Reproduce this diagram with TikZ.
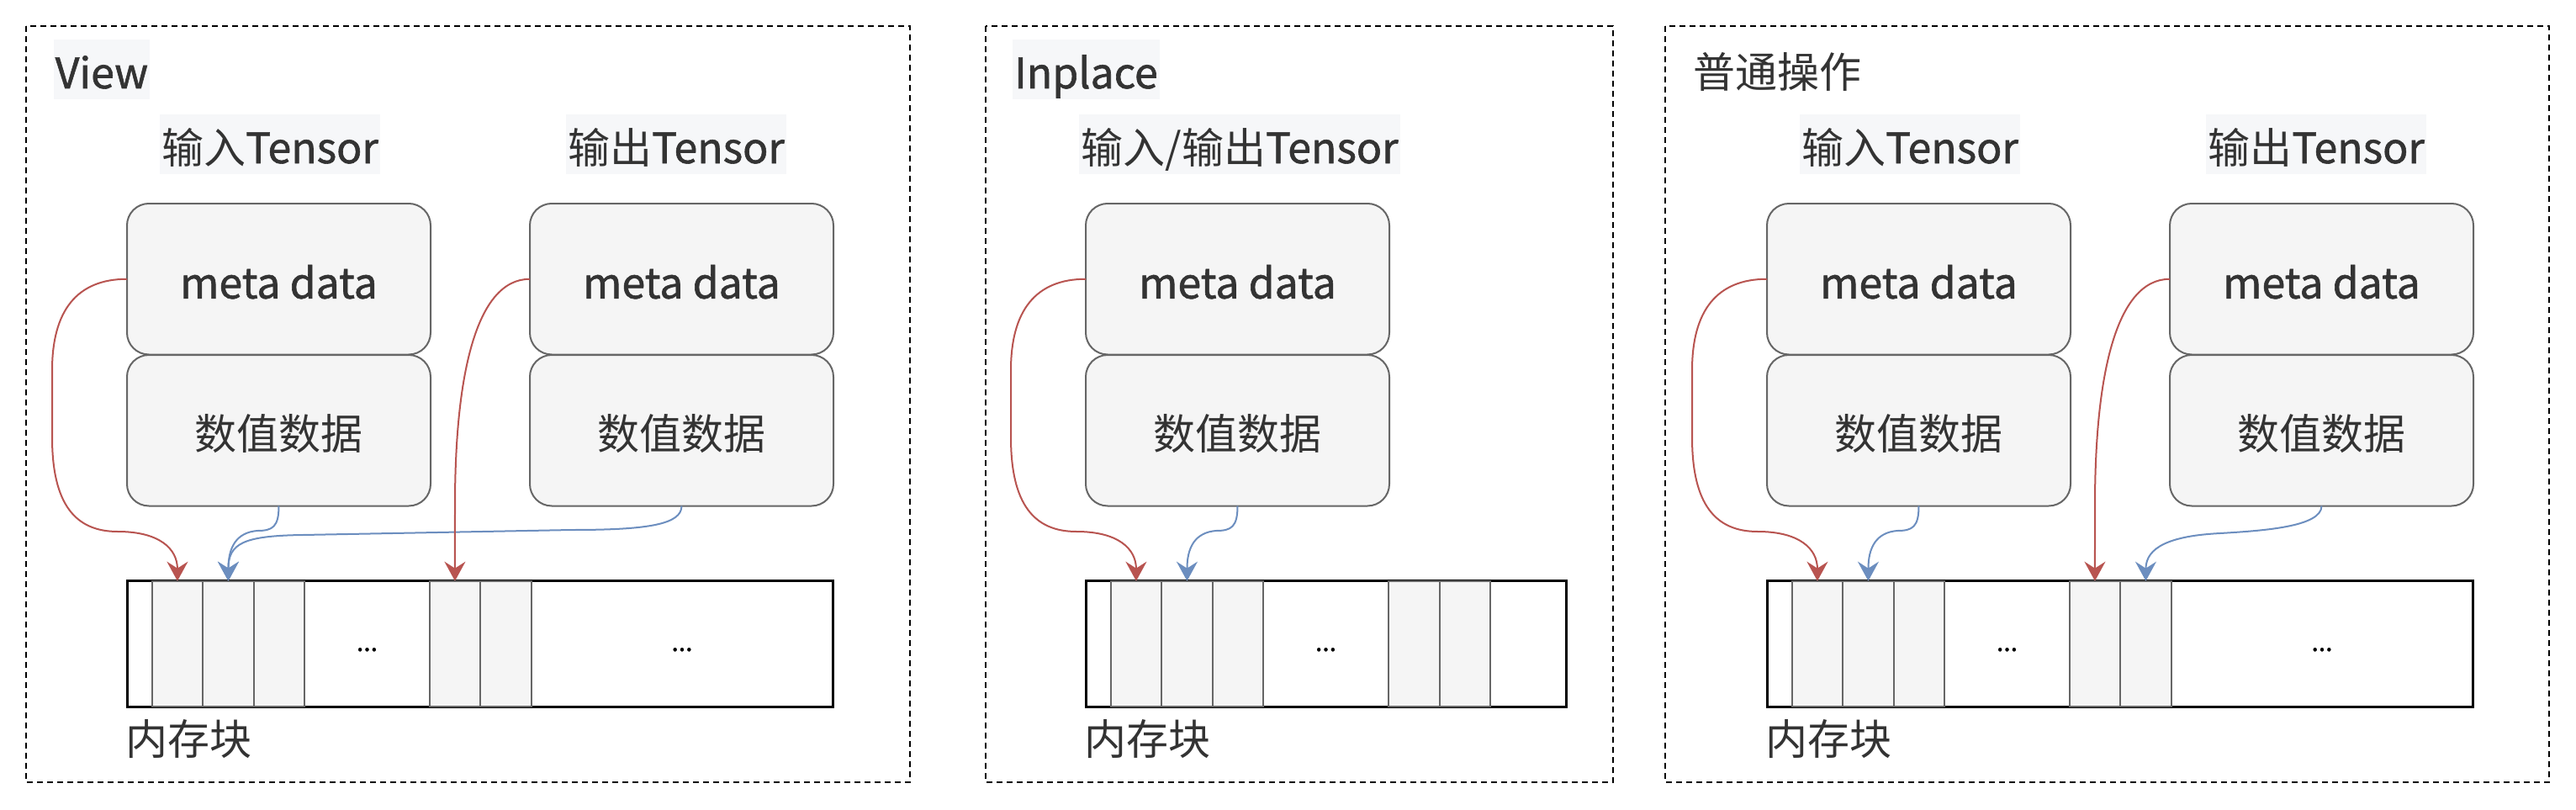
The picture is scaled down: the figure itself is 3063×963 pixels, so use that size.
\documentclass[tikz,border=0pt]{standalone}
\usepackage{fontspec}
\setmainfont{Noto Sans CJK SC}
\newfontfamily\latf{Noto Sans CJK SC}[FakeBold=1.2]
\usetikzlibrary{arrows.meta}
\definecolor{tgray}{HTML}{333333}
\definecolor{bstroke}{HTML}{666666}
\definecolor{bfill}{HTML}{F5F5F5}
\definecolor{lblbg}{HTML}{F6F7F9}
\definecolor{ared}{HTML}{B85450}
\definecolor{ablue}{HTML}{6C8EBF}
\newcommand\bigfont{\fontsize{50}{60}\selectfont}
\newcommand\dotfont{\fontsize{30}{36}\selectfont}
\begin{document}
\begin{tikzpicture}[x=1pt,y=-1pt,
  panelbox/.style={draw=black, line width=2.5pt, dash pattern=on 7pt off 5pt},
  lbl/.style={fill=lblbg, inner xsep=2pt, inner ysep=0pt, text height=58pt, text depth=13pt, text=tgray, font=\bigfont},
  tbox/.style={draw=bstroke, fill=bfill, line width=2pt, rounded corners=26pt, minimum width=361pt, minimum height=179.5pt, inner sep=0pt, outer sep=0pt, text height=46pt, text depth=0pt, text=tgray, font=\bigfont},
  mem/.style={draw=black, line width=3pt, minimum height=149.3pt, inner sep=0pt, outer sep=0pt, anchor=north west},
  cell/.style={draw=bstroke, fill=bfill, line width=2pt, minimum width=60.5pt, minimum height=149.3pt, inner sep=0pt, outer sep=0pt, anchor=north west},
  dotlbl/.style={anchor=base, inner sep=0pt, font=\dotfont\latf, text=black},
  memlbl/.style={anchor=base west, inner sep=0pt, font=\bigfont, text=tgray},
  redarr/.style={draw=ared, line width=2pt, -{Stealth[length=23pt,width=25pt,inset=8pt]}},
  bluearr/.style={draw=ablue, line width=2pt, -{Stealth[length=23pt,width=25pt,inset=8pt]}}
]
\useasboundingbox (0,0) rectangle (3063,963);
\fill[white] (0,0) rectangle (3063,963);

% ---------------- Panel 1: View ----------------
\begin{scope}
  \draw[panelbox] (31,31) rectangle (1082,930);
  \node[lbl, anchor=base west] (p1title) at (63.5,105) {\latf View};
  \node[lbl, anchor=base] (p1in) at (321,194) {输入{\latf Tensor}};
  \node[lbl, anchor=base] (p1out) at (804,194) {输出{\latf Tensor}};
  \node[tbox] (p1m1) at (331.5,331.75) {\latf meta data};
  \node[tbox] (p1n1) at (331.5,511.75) {数值数据};
  \node[tbox] (p1m2) at (810.5,331.75) {\latf meta data};
  \node[tbox] (p1n2) at (810.5,511.75) {数值数据};
  \node[mem, minimum width=839pt] (p1mem) at (151,690.7) {};
  \foreach \i/\x in {1/180.7,2/241.2,3/301.7,4/510.7,5/571.2}
    \node[cell] (p1c\i) at (\x,690.7) {};
  \node[dotlbl] (p1d1) at (436.5,774) {...};
  \node[dotlbl] (p1d2) at (811,774) {...};
  \node[memlbl] (p1lab) at (149,897) {内存块};
  \draw[bluearr] (p1n1.south) .. controls +(0,25) and +(18,0) .. (306,631) .. controls +(-25,2) and +(0,-40) .. (p1c2.north);
  \draw[bluearr] (p1n2.south) .. controls +(0,22) and +(90,0) .. (680,630) -- (360,636) .. controls +(-70,1) and +(0,-45) .. (p1c2.north);
  \draw[redarr] (p1m1.west) .. controls +(-60,0) and +(0,-70) .. (62,440) -- (62,520) .. controls +(0,80) and +(-50,0) .. (140,632) .. controls +(50,0) and +(0,-38) .. (p1c1.north);
  \draw[redarr] (p1m2.west) .. controls +(-65,0) and +(0,-150) .. (541,600) -- (p1c4.north);
\end{scope}

% ---------------- Panel 2: Inplace ----------------
\begin{scope}[xshift=1140pt]
  \draw[panelbox] (32,31) rectangle (778,930);
  \node[lbl, anchor=base west] (p2title) at (64,105) {\latf Inplace};
  \node[lbl, anchor=base] (p2io) at (334,194) {输入/输出{\latf Tensor}};
  \node[tbox] (p2m1) at (331.5,331.75) {\latf meta data};
  \node[tbox] (p2n1) at (331.5,511.75) {数值数据};
  \node[mem, minimum width=571pt] (p2mem) at (151,690.7) {};
  \foreach \i/\x in {1/180.7,2/241.2,3/301.7,4/511,5/571.5}
    \node[cell] (p2c\i) at (\x,690.7) {};
  \node[dotlbl] (p2d1) at (436.5,774) {...};
  \node[memlbl] (p2lab) at (149,897) {内存块};
  \draw[bluearr] (p2n1.south) .. controls +(0,25) and +(18,0) .. (306,631) .. controls +(-25,2) and +(0,-40) .. (p2c2.north);
  \draw[redarr] (p2m1.west) .. controls +(-60,0) and +(0,-70) .. (62,440) -- (62,520) .. controls +(0,80) and +(-50,0) .. (140,632) .. controls +(50,0) and +(0,-38) .. (p2c1.north);
\end{scope}

% ---------------- Panel 3: 普通操作 ----------------
\begin{scope}[xshift=1950pt]
  \draw[panelbox] (30,31) rectangle (1081,930);
  \node[memlbl] (p3title) at (63,105) {普通操作};
  \node[lbl, anchor=base] (p3in) at (321,194) {输入{\latf Tensor}};
  \node[lbl, anchor=base] (p3out) at (804,194) {输出{\latf Tensor}};
  \node[tbox] (p3m1) at (331.5,331.75) {\latf meta data};
  \node[tbox] (p3n1) at (331.5,511.75) {数值数据};
  \node[tbox] (p3m2) at (810.5,331.75) {\latf meta data};
  \node[tbox] (p3n2) at (810.5,511.75) {数值数据};
  \node[mem, minimum width=839pt] (p3mem) at (151,690.7) {};
  \foreach \i/\x in {1/180.7,2/241.2,3/301.7,4/510.7,5/571.2}
    \node[cell] (p3c\i) at (\x,690.7) {};
  \node[dotlbl] (p3d1) at (436.5,774) {...};
  \node[dotlbl] (p3d2) at (811,774) {...};
  \node[memlbl] (p3lab) at (149,897) {内存块};
  \draw[bluearr] (p3n1.south) .. controls +(0,25) and +(18,0) .. (306,631) .. controls +(-25,2) and +(0,-40) .. (p3c2.north);
  \draw[bluearr] (p3n2.south) .. controls +(0,25) and +(50,-3) .. (690,634) .. controls +(-60,3) and +(0,-40) .. (p3c5.north);
  \draw[redarr] (p3m1.west) .. controls +(-60,0) and +(0,-70) .. (62,440) -- (62,520) .. controls +(0,80) and +(-50,0) .. (140,632) .. controls +(50,0) and +(0,-38) .. (p3c1.north);
  \draw[redarr] (p3m2.west) .. controls +(-65,0) and +(0,-150) .. (541,600) -- (p3c4.north);
\end{scope}
\end{tikzpicture}
\end{document}
